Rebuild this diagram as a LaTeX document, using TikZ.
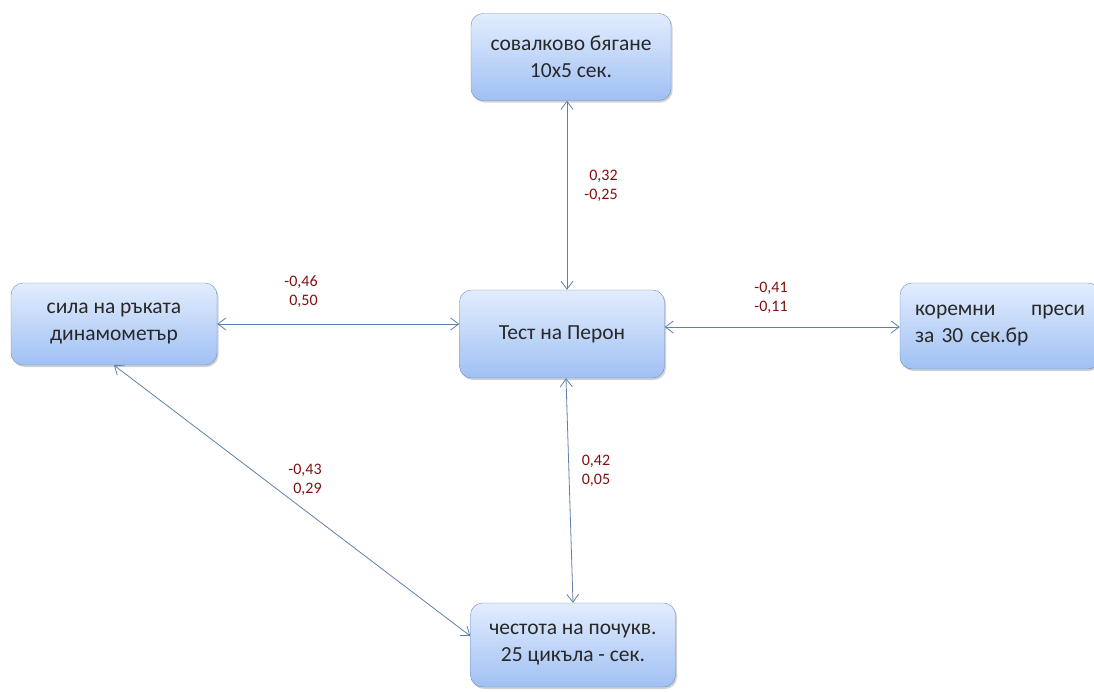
\documentclass[tikz,border=0pt]{standalone}
\usepackage{fontspec}
\setmainfont{Carlito}
\usetikzlibrary{arrows.meta,shadows}
\definecolor{boxedge}{RGB}{112,140,180}
\definecolor{boxtop}{RGB}{226,237,253}
\definecolor{boxbot}{RGB}{160,192,244}
\definecolor{linkcol}{RGB}{96,128,168}
\definecolor{valcol}{RGB}{128,16,16}
\definecolor{boxtext}{RGB}{40,40,40}
\begin{document}
\begin{tikzpicture}[x=1pt,y=-1pt,
  testbox/.style={draw=boxedge, rounded corners=12pt, top color=boxtop, bottom color=boxbot,
    drop shadow={shadow xshift=1.5pt, shadow yshift=-2pt, fill=black!35},
    text=boxtext, inner sep=0pt, align=center, font=\fontsize{21.5}{27}\selectfont},
  link/.style={linkcol, line width=0.8pt, {Straight Barb[length=8pt,width=12pt]}-{Straight Barb[length=8pt,width=12pt]}},
  coef/.style={valcol, align=right, font=\fontsize{16}{19}\selectfont}]
\useasboundingbox (0,0) rectangle (1094,691);

\node[testbox, minimum width=200pt, minimum height=87pt] (shuttle) at (571,57) {совалково бягане\\10x5 сек.};
\node[testbox, minimum width=206pt, minimum height=82pt] (grip) at (114,324) {сила на ръката\\динамометър};
\node[testbox, minimum width=205pt, minimum height=88pt] (peron) at (562,334) {Тест на Перон};
\node[testbox, minimum width=200pt, minimum height=86pt, text width=170pt, align=left] (situps) at (1000,326)
  {коремни\hfill преси\\за 30 сек.бр};
\node[testbox, minimum width=205pt, minimum height=84pt] (tapping) at (573,645) {честота на почукв.\\25 цикъла - сек.};

\draw[link] (shuttle.south -| 567,0) -- (peron.north -| 567,0);
\draw[link] (grip.east |- 0,324) -- (peron.west |- 0,324);
\draw[link] (peron.east |- 0,327) -- (situps.west |- 0,327);
\draw[link] (peron.south -| 566,0) -- (tapping.north -| 573,0);
\draw[link] (grip.south) -- (tapping.west |- 0,636);

\node[coef] (c1) at (601,186) {0,32\\-0,25};
\node[coef] (c2) at (301,292) {-0,46\\0,50};
\node[coef] (c3) at (771,298) {-0,41\\-0,11};
\node[coef] (c4) at (305,480) {-0,43\\0,29};
\node[coef] (c5) at (596,471) {0,42\\0,05};
\end{tikzpicture}
\end{document}
